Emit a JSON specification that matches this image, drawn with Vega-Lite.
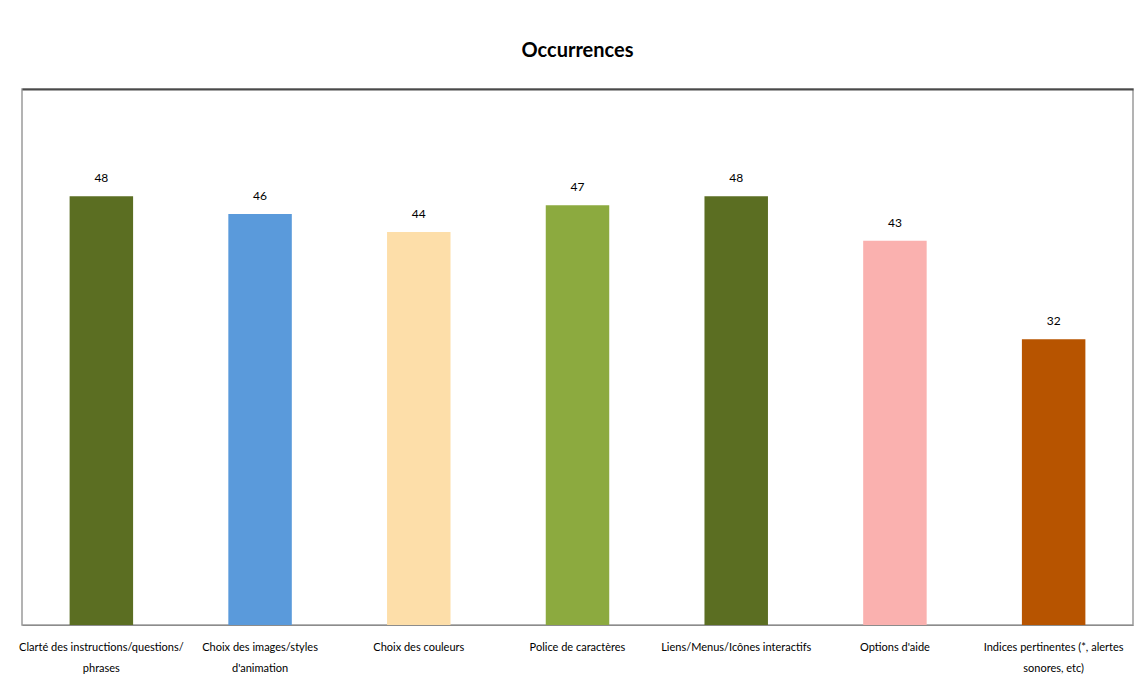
{
  "$schema": "https://vega.github.io/schema/vega-lite/v6.json",
  "width": 1111,
  "height": 536,
  "autosize": {"type": "none"},
  "padding": {"left": 22, "top": 89, "right": 4, "bottom": 61},
  "background": "white",
  "title": {
    "text": "Occurrences",
    "font": "Lato",
    "fontSize": 20,
    "fontWeight": "bold",
    "color": "#000000",
    "anchor": "middle",
    "offset": 28
  },
  "data": {
    "values": [
      {"critere": "Clarté des instructions/questions/ phrases", "occurrences": 48, "couleur": "#5B6E22"},
      {"critere": "Choix des images/styles d'animation", "occurrences": 46, "couleur": "#5A9ADB"},
      {"critere": "Choix des couleurs", "occurrences": 44, "couleur": "#FDDEA9"},
      {"critere": "Police de caractères", "occurrences": 47, "couleur": "#8CAA3F"},
      {"critere": "Liens/Menus/Icônes interactifs", "occurrences": 48, "couleur": "#5B6E22"},
      {"critere": "Options d'aide", "occurrences": 43, "couleur": "#FAB1AF"},
      {"critere": "Indices pertinentes (*, alertes sonores, etc)", "occurrences": 32, "couleur": "#B75400"}
    ]
  },
  "encoding": {
    "y": {
      "field": "occurrences",
      "type": "quantitative",
      "scale": {"domain": [0, 60], "nice": false},
      "axis": null
    }
  },
  "layer": [
    {
      "mark": {"type": "bar"},
      "encoding": {
        "x": {
          "field": "critere",
          "type": "nominal",
          "sort": null,
          "scale": {"paddingInner": 0.6, "paddingOuter": 0.3},
          "axis": {
            "title": null,
            "labelAngle": 0,
            "labelFont": "Lato",
            "labelFontSize": 11,
            "labelColor": "#000000",
            "labelPadding": 16,
            "labelLineHeight": 21,
            "labelLimit": 300,
            "ticks": false,
            "domain": true,
            "domainColor": "#8c8c8c",
            "labelExpr": "datum.value == \"Clarté des instructions/questions/ phrases\" ? [\"Clarté des instructions/questions/\", \"phrases\"] : datum.value == \"Choix des images/styles d'animation\" ? [\"Choix des images/styles\", \"d'animation\"] : datum.value == \"Indices pertinentes (*, alertes sonores, etc)\" ? [\"Indices pertinentes (*, alertes\", \"sonores, etc)\"] : datum.value"
          }
        },
        "color": {"field": "couleur", "type": "nominal", "scale": null, "legend": null}
      }
    },
    {
      "mark": {
        "type": "text",
        "dy": -18,
        "font": "Lato",
        "fontSize": 12,
        "color": "#000000"
      },
      "encoding": {
        "x": {
          "field": "critere",
          "type": "nominal",
          "sort": null,
          "axis": {
            "orient": "top",
            "title": null,
            "labels": false,
            "ticks": false,
            "domain": true,
            "domainColor": "#4a4a4a",
            "domainWidth": 2
          }
        },
        "text": {"field": "occurrences", "type": "quantitative"}
      }
    }
  ],
  "resolve": {"axis": {"x": "independent"}},
  "config": {
    "view": {"stroke": "#9a9a9a", "strokeWidth": 1.5}
  }
}
